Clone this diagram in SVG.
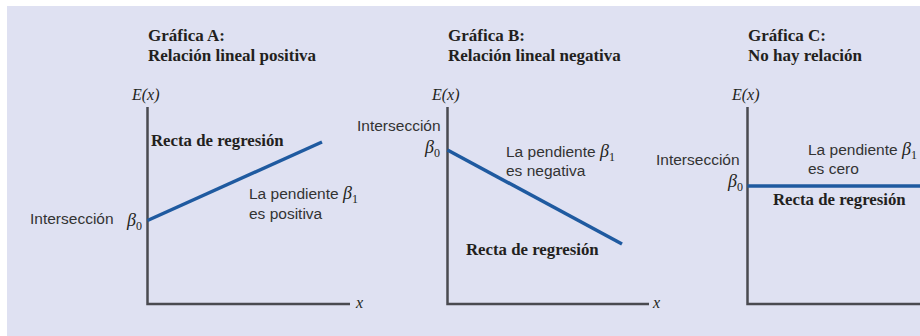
<svg xmlns="http://www.w3.org/2000/svg" width="920" height="336" viewBox="0 0 920 336">
<style>
.title{font-family:"Liberation Serif","Times New Roman",serif;font-weight:bold;font-size:17px;fill:#231f20}
.rl{font-family:"Liberation Serif","Times New Roman",serif;font-weight:bold;font-size:16.8px;fill:#231f20}
.ex{font-family:"Liberation Serif","Times New Roman",serif;font-style:italic;font-size:16px;fill:#231f20}
.sans{font-family:"Liberation Sans",Arial,sans-serif;font-size:15.5px;fill:#333333}
.beta{font-family:"Liberation Serif","Times New Roman",serif;font-style:italic;font-size:18px;fill:#231f20}
.sub{font-family:"Liberation Serif","Times New Roman",serif;font-size:12px;fill:#231f20}
.axis{fill:none;stroke:#4a4a50;stroke-width:2.5}
.reg{fill:none;stroke:#1f5aa0;stroke-width:3.5}
</style>
<rect x="0" y="0" width="920" height="336" fill="#ffffff"/>
<rect x="7" y="6" width="913" height="330" fill="#dfe1f2"/>

<g id="graficaA">
  <text class="title" x="148" y="41">Gráfica A:</text>
  <text class="title" x="148" y="61">Relación lineal positiva</text>
  <text class="ex" x="132" y="100">E(x)</text>
  <path class="axis" d="M147.5,107 V304 H350"/>
  <text class="ex" x="356" y="308">x</text>
  <line class="reg" x1="147.5" y1="220.5" x2="322" y2="142"/>
  <text class="rl" x="151" y="146">Recta de regresión</text>
  <text class="sans" x="249" y="199">La pendiente <tspan class="beta">β</tspan><tspan class="sub" dy="4">1</tspan></text>
  <text class="sans" x="249" y="219">es positiva</text>
  <text class="sans" x="30" y="224">Intersección</text>
  <text x="127" y="226"><tspan class="beta">β</tspan><tspan class="sub" dy="4">0</tspan></text>
</g>

<g id="graficaB">
  <text class="title" x="448" y="41">Gráfica B:</text>
  <text class="title" x="448" y="61">Relación lineal negativa</text>
  <text class="ex" x="432" y="100">E(x)</text>
  <path class="axis" d="M447.5,107 V304 H649"/>
  <text class="ex" x="653" y="308">x</text>
  <line class="reg" x1="447.5" y1="150" x2="622" y2="244"/>
  <text class="sans" x="357" y="131">Intersección</text>
  <text x="425" y="153"><tspan class="beta">β</tspan><tspan class="sub" dy="4">0</tspan></text>
  <text class="sans" x="506" y="157">La pendiente <tspan class="beta">β</tspan><tspan class="sub" dy="4">1</tspan></text>
  <text class="sans" x="506" y="176">es negativa</text>
  <text class="rl" x="466" y="255">Recta de regresión</text>
</g>

<g id="graficaC">
  <text class="title" x="748" y="41">Gráfica C:</text>
  <text class="title" x="748" y="61">No hay relación</text>
  <text class="ex" x="732" y="100">E(x)</text>
  <path class="axis" d="M747.5,107 V304 H920"/>
  <line class="reg" x1="747.5" y1="186" x2="920" y2="186"/>
  <text class="sans" x="656" y="165">Intersección</text>
  <text x="728" y="187"><tspan class="beta">β</tspan><tspan class="sub" dy="4">0</tspan></text>
  <text class="sans" x="808" y="155">La pendiente <tspan class="beta">β</tspan><tspan class="sub" dy="4">1</tspan></text>
  <text class="sans" x="808" y="174">es cero</text>
  <text class="rl" x="773" y="205">Recta de regresión</text>
</g>
</svg>
